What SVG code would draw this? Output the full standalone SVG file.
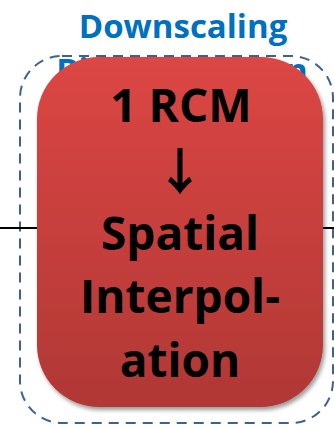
<svg xmlns="http://www.w3.org/2000/svg" width="334" height="429" viewBox="0 0 334 429">
<style>
.title{font-family:"Open Sans","Liberation Sans",sans-serif;font-weight:bold;font-size:33px;fill:#0070C0;text-anchor:middle}
.lbl{font-family:"Open Sans","Liberation Sans",sans-serif;font-weight:bold;font-size:46px;fill:#000;text-anchor:middle}
.arr{font-family:"Noto Sans CJK JP","DejaVu Sans",sans-serif;font-weight:bold;font-size:50px;fill:#000;text-anchor:middle}
.conn{stroke:#000;stroke-width:2;fill:none}
</style>
<defs>
<linearGradient id="red" x1="0" y1="0" x2="0" y2="1">
<stop offset="0" stop-color="#dc4644"/>
<stop offset="1" stop-color="#b03835"/>
</linearGradient>
<filter id="sh" x="-10%" y="-10%" width="125%" height="125%">
<feGaussianBlur in="SourceAlpha" stdDeviation="2"/>
<feOffset dx="2" dy="3"/>
<feComponentTransfer><feFuncA type="linear" slope="0.4"/></feComponentTransfer>
<feMerge><feMergeNode/><feMergeNode in="SourceGraphic"/></feMerge>
</filter>
</defs>
<g id="group">
<rect x="20" y="56" width="313" height="367" rx="42" ry="42" fill="none" stroke="#3d6190" stroke-width="2" stroke-dasharray="10 7"/>
<text class="title" x="183" y="38">Downscaling</text>
<text class="title" x="182" y="82">Bias Correction</text>
</g>
<g id="connectors">
<line class="conn" x1="0" y1="228" x2="38" y2="228"/>
<line class="conn" x1="322" y1="228" x2="334" y2="228"/>
</g>
<g id="node">
<rect x="37" y="57" width="286" height="350" rx="62" ry="62" fill="url(#red)" filter="url(#sh)"/>
<text class="lbl" x="181" y="122">1 RCM</text>
<text class="arr" x="180" y="190">↓</text>
<text class="lbl" x="180" y="250">Spatial</text>
<text class="lbl" x="180" y="313">Interpol-</text>
<text class="lbl" x="180" y="377">ation</text>
</g>
</svg>
